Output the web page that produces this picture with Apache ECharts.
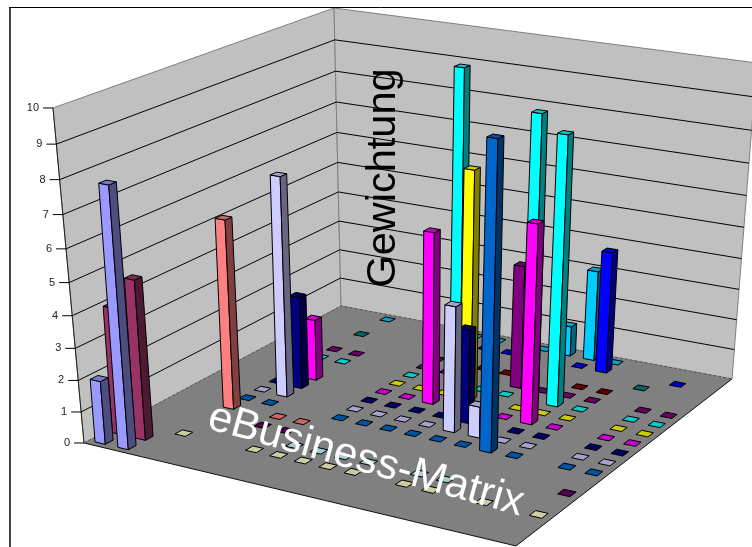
<!DOCTYPE html>
<html>
<head>
<meta charset="utf-8">
<title>eBusiness-Matrix</title>
<style>
    html, body { margin: 0; padding: 0; background: #fff; }
    #main { width: 752px; height: 547px; }
</style>
<script src="https://cdn.jsdelivr.net/npm/echarts@6/dist/echarts.min.js"></script>
</head>
<body>
<div id="main"></div>
<script>
var _ = null;

var columnNames = ['1', '2', '3', '4', '5', '6', '7', '8', '9', '10', '11', '12', '13', '14', '15', '16', '17'];
var valueTicks = [0, 1, 2, 3, 4, 5, 6, 7, 8, 9, 10];

// eine Reihe je Farbe, von vorne nach hinten, leer = kein Feld
var row01 = [2, 8, _, _, _, _, _, _, _, _, _, _, _, _, _, _, _];
var row02 = [4, 5, _, _, _, _, _, _, _, _, _, _, _, _, _, _, _];
var row03 = [_, _, 0, _, _, 0, 0, 0, 0, 0, _, 0, 0, _, 0, _, 0];
var row04 = [_, _, _, _, _, _, 0, 0, 0, 0, _, 0, 0, _, _, _, _];
var row05 = [_, _, _, _, 0, 0, _, _, _, _, _, _, _, _, _, _, 0];
var row06 = [_, _, 6, _, 0, 0, _, _, _, _, _, _, _, _, _, _, _];
var row07 = [_, _, 0, 0, _, _, 0, 0, 0, 0, 0, 0, 9.4, 0, _, 0, 0];
var row08 = [_, _, 0, 7, _, _, 0, 0, 0, 0, 4, 1, 0, 0, _, 0, 0];
var row09 = [_, _, 0, 3, _, _, 0, 0, 0, 0, 3, _, 0, 0, _, 0, 0];
var row10 = [_, _, _, 2, _, _, 0, 0, 5.5, _, _, 0, 6.3, 0, _, 0, 0];
var row11 = [_, _, _, _, _, _, 0, 0, 0, 7.3, _, 0, 0, 0, _, 0, 0];
var row12 = [_, _, 0, 0, _, _, 0, _, 10, 0, 0, 9, 8.5, 0, _, 0, 0];
var row13 = [_, _, 0, 0, _, _, 0, 0, _, _, 4, 0, 0, 0, _, 0, 0];
var row14 = [_, _, _, _, _, _, 0, _, 0, 0, _, _, 0, 0, _, _, _];
var row15 = [_, _, 0, _, _, _, _, _, _, _, _, _, _, _, 0, _, _];
var row16 = [_, _, _, _, _, _, _, 0, 0, _, _, 0, 4, _, _, 0, _];
var row17 = [_, _, 0, _, _, _, 0, 0, _, 0, 1, 3, 0, _, _, _, _];

var rows = [row01, row02, row03, row04, row05, row06, row07, row08, row09, row10, row11, row12, row13, row14, row15, row16, row17];
var rowNames = rows.map(function (r, i) { return 'Reihe' + (i + 1); });
var rowColors = ['#9999FF', '#993366', '#FFFFCC', '#CCFFFF', '#660066', '#FF8080', '#0066CC', '#CCCCFF', '#000080',
    '#FF00FF', '#FFFF00', '#00FFFF', '#800080', '#800000', '#008080', '#0000FF', '#00CCFF'];

// hinten zuerst, damit die vorderen Saeulen die hinteren verdecken
var barData = [];
for (var r = rows.length - 1; r >= 0; r--) {
    for (var c = 0; c < columnNames.length; c++) {
        if (rows[r][c] !== _) {
            barData.push([c, r, rows[r][c]]);
        }
    }
}

var W = 752, H = 547;
var BAR_SIZE = 0.45;

// u, v: Boden 0..1, h: Hoehe 0..1
function project(u, v, h) {
    var w = 1 - 0.1078 * u + 0.1644 * v - 0.0813 * h;
    return [
        (376.4 * u + 313.06 * v + 84 - 35.3 * h) / w,
        (44.1 * u - 86.7 * v + 443 + h * (-343.8 + 8.6 * u - 3.8 * v)) / w
    ];
}

function heightOf(value) {
    return echarts.number.linearMap(value, [0, valueTicks[valueTicks.length - 1]], [0, 1]);
}

function shade(hex, f) {
    var n = parseInt(hex.slice(1), 16);
    return 'rgb(' + Math.round((n >> 16 & 255) * f) + ',' + Math.round((n >> 8 & 255) * f) + ',' + Math.round((n & 255) * f) + ')';
}

function poly(points, fill, stroke, lineWidth) {
    return {
        type: 'polygon',
        shape: { points: points },
        style: { fill: fill, stroke: stroke, lineWidth: lineWidth === undefined ? 1 : lineWidth }
    };
}

function line(points, stroke, lineWidth, dash) {
    return {
        type: 'polyline',
        shape: { points: points },
        style: { fill: 'none', stroke: stroke, lineWidth: lineWidth || 1, lineDash: dash || null }
    };
}

function renderWalls() {
    var A = project(0, 0, 0), B = project(1, 0, 0), C = project(1, 1, 0), D = project(0, 1, 0);
    var At = project(0, 0, 1), Ct = project(1, 1, 1), Dt = project(0, 1, 1);
    return {
        type: 'group',
        children: [
            poly([A, D, Dt, At], '#C0C0C0', '#808080'),
            poly([D, C, Ct, Dt], '#C0C0C0', '#808080'),
            poly([A, B, C, D], '#808080', 'none'),
            line([A, At], '#222222'),
            line([A, B, C], '#111111'),
            line([A, D, C], '#555555', 1, [3, 2])
        ]
    };
}

function renderTick(params, api) {
    var value = api.value(0);
    var h = heightOf(value);
    var A = project(0, 0, h), D = project(0, 1, h), C = project(1, 1, h);
    var children = [
        line([[A[0] - 10, A[1]], A], '#000000')
    ];
    if (value > 0 && value < valueTicks[valueTicks.length - 1]) {
        children.push(line([A, D, C], '#000000'));
    }
    children.push({
        type: 'text',
        style: {
            x: A[0] - 14,
            y: A[1],
            text: String(value),
            fill: '#222222',
            font: '11px "Liberation Sans", Arial, sans-serif',
            align: 'right',
            verticalAlign: 'middle'
        }
    });
    return { type: 'group', children: children };
}

function renderBar(params, api) {
    var p = api.coord([api.value(0), api.value(1)]);
    var band = api.size([1, 1]);
    var u = p[0] / W, v = 1 - p[1] / H;
    var value = api.value(2);
    var h = heightOf(value);
    var color = rowColors[api.value(1)];
    var du = band[0] / W * BAR_SIZE / 2, dv = band[1] / H * BAR_SIZE / 2;

    // Saeulen werden im Original nach oben nicht breiter und kippen leicht nach rechts
    var sh = 1 - 0.12 * h;
    function top(pu, pv) {
        var q = project(u + pu * du * sh, v + pv * dv * sh, h);
        return [q[0] + 2.5 * h, q[1]];
    }
    var a = top(-1, -1), b = top(1, -1), e = top(1, 1), d = top(-1, 1);
    var children = [];
    if (value > 0) {
        var a0 = project(u - du, v - dv, 0), b0 = project(u + du, v - dv, 0), e0 = project(u + du, v + dv, 0);
        children.push(poly([a0, b0, b, a], color, '#000000', 1));
        children.push(poly([b0, e0, e, b], shade(color, 0.5), '#000000', 1));
    }
    children.push(poly([a, b, e, d], shade(color, 0.8), '#000000', 1));
    return { type: 'group', children: children };
}

var chart = echarts.init(document.getElementById('main'), null, { width: W, height: H });
chart.setOption({
    animation: false,
    backgroundColor: '#FFFFFF',
    tooltip: { show: false },
    grid: { left: 0, right: 0, top: 0, bottom: 0 },
    xAxis: { type: 'category', data: columnNames, show: false },
    yAxis: { type: 'category', data: rowNames, show: false },
    series: [
        {
            type: 'custom',
            coordinateSystem: 'none',
            silent: true,
            z: 1,
            data: [[0]],
            renderItem: renderWalls
        },
        {
            type: 'custom',
            coordinateSystem: 'none',
            silent: true,
            z: 2,
            data: valueTicks.map(function (t) { return [t]; }),
            renderItem: renderTick
        },
        {
            type: 'custom',
            coordinateSystem: 'cartesian2d',
            silent: true,
            clip: false,
            z: 3,
            encode: { x: 0, y: 1 },
            data: barData,
            renderItem: renderBar
        }
    ],
    graphic: [
        {
            type: 'text',
            z: 10,
            x: 384,
            y: 178,
            rotation: Math.PI / 2,
            style: {
                text: 'Gewichtung',
                fill: '#000000',
                font: '41.5px "Liberation Sans", Arial, sans-serif',
                align: 'center',
                verticalAlign: 'middle'
            }
        },
        {
            type: 'text',
            z: 10,
            x: 366,
            y: 460.5,
            rotation: -15.6 * Math.PI / 180,
            style: {
                text: 'eBusiness-Matrix',
                fill: '#FFFFFF',
                font: '42.5px "Liberation Sans", Arial, sans-serif',
                align: 'center',
                verticalAlign: 'middle'
            }
        },
        {
            type: 'polyline',
            z: 11,
            shape: { points: [[10, 547], [10, 7.5]] },
            style: { fill: 'none', stroke: '#444444', lineWidth: 2 }
        },
        {
            type: 'polyline',
            z: 11,
            shape: { points: [[9, 7.5], [752, 7.5]] },
            style: { fill: 'none', stroke: '#000000', lineWidth: 1 }
        }
    ]
});
</script>
</body>
</html>
